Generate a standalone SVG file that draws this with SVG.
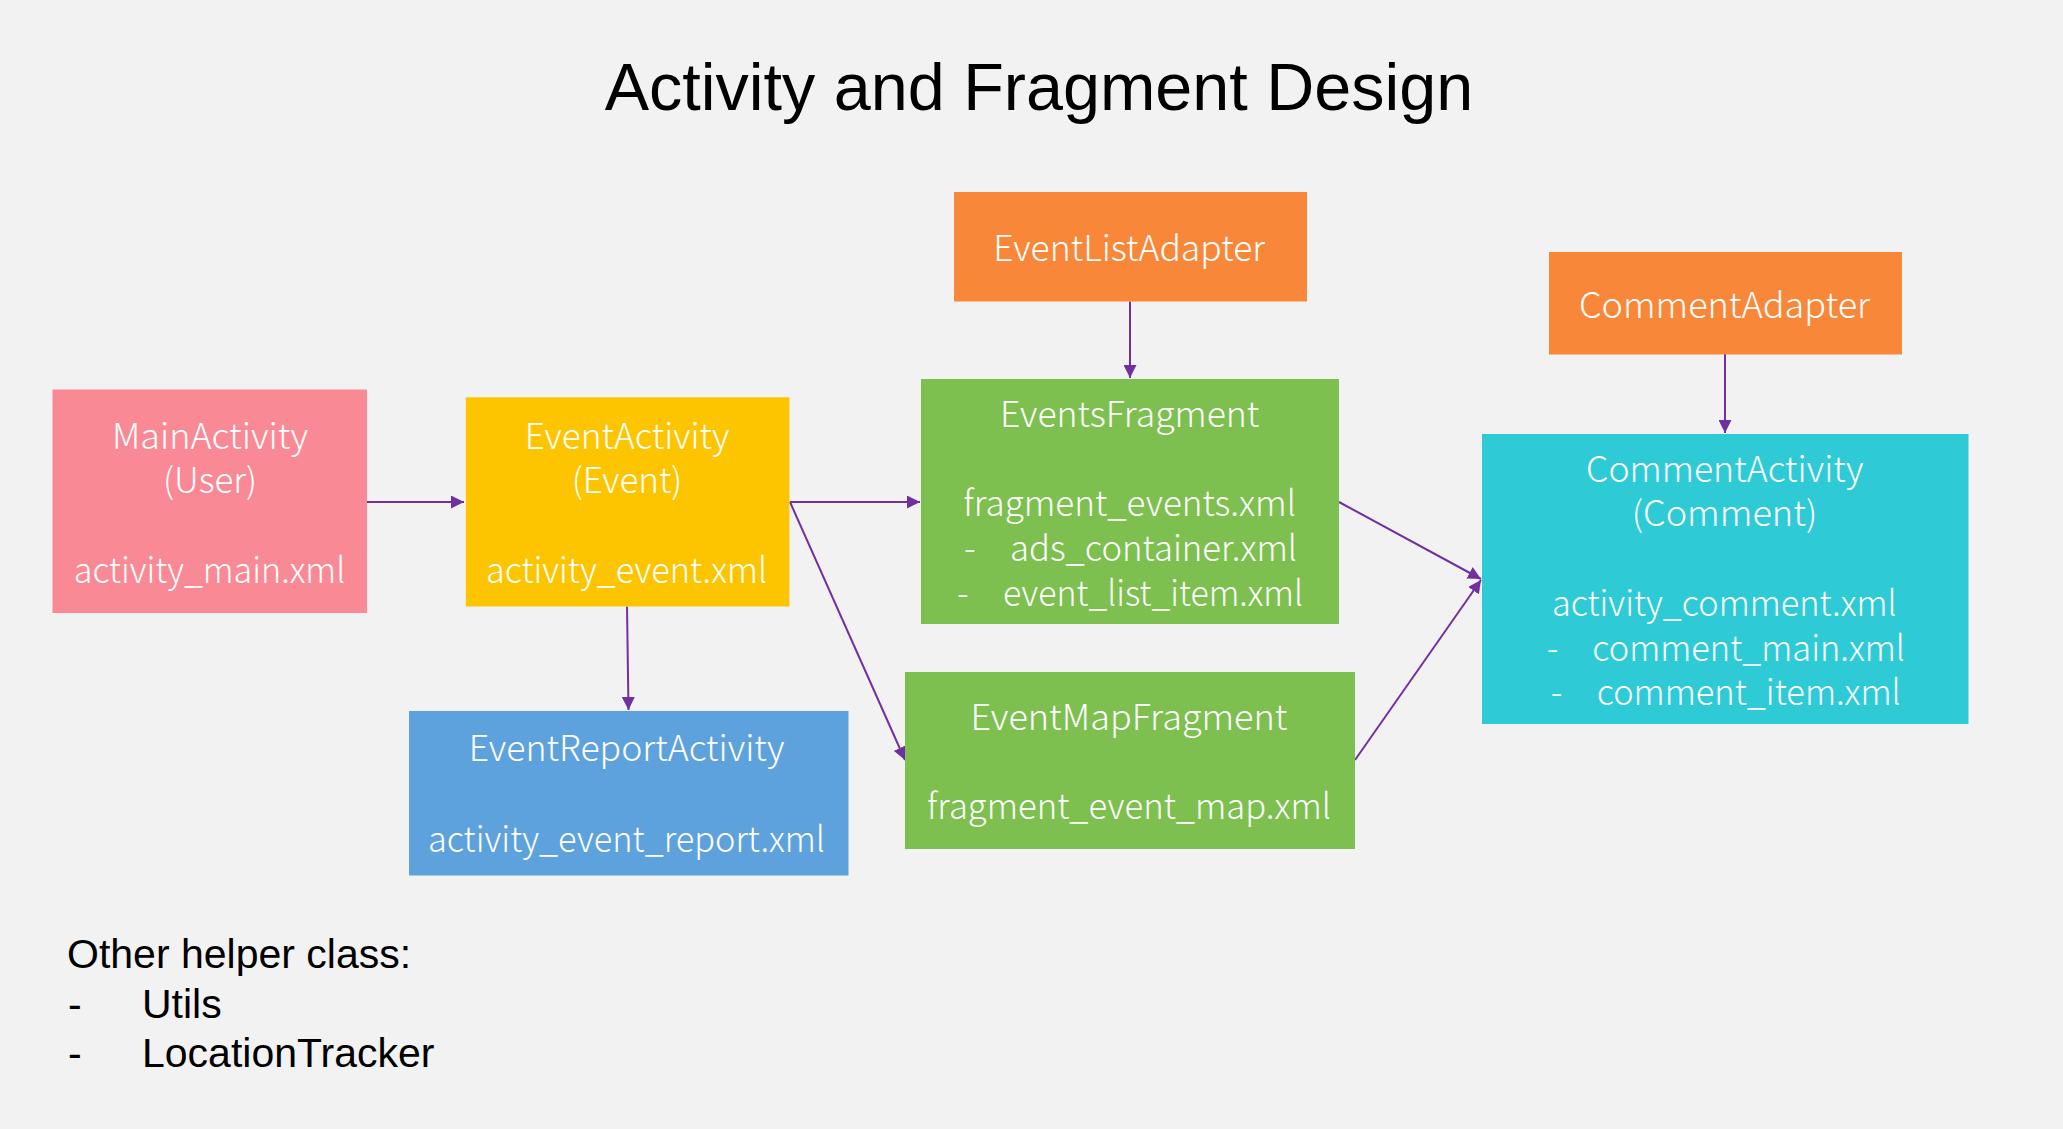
<svg xmlns="http://www.w3.org/2000/svg" width="2063" height="1129" viewBox="0 0 2063 1129">
<style>
.bg{fill:#F2F2F2}
.t{font-family:"Noto Sans CJK SC","Noto Sans",sans-serif;font-weight:300;font-size:35px;fill:#FFFFFF;text-anchor:middle}
.l{font-family:"Noto Sans CJK SC","Noto Sans",sans-serif;font-weight:300;font-size:35px;fill:#FFFFFF}
.blk{font-family:"Liberation Sans",Arial,sans-serif;fill:#000000}
.c{stroke:#7030A0;stroke-width:2;fill:none;marker-end:url(#ah)}
</style>
<defs>
<marker id="ah" markerUnits="userSpaceOnUse" markerWidth="13" markerHeight="13" viewBox="0 0 12 12" refX="12" refY="6" orient="auto">
<path d="M0,0 L12,6 L0,12 Z" fill="#7030A0"/>
</marker>
</defs>
<rect class="bg" x="0" y="0" width="2063" height="1129"/>
<text class="blk" x="1039" y="110" font-size="66.5" text-anchor="middle">Activity and Fragment Design</text>

<g id="connectors">
<line class="c" x1="367" y1="502" x2="464" y2="502"/>
<line class="c" x1="790" y1="502" x2="920" y2="502"/>
<line class="c" x1="790" y1="502" x2="905" y2="760"/>
<line class="c" x1="627" y1="606.5" x2="628.5" y2="710"/>
<line class="c" x1="1130" y1="301.5" x2="1130" y2="378"/>
<line class="c" x1="1725" y1="354" x2="1725" y2="433"/>
<line class="c" x1="1339" y1="502" x2="1481" y2="579"/>
<line class="c" x1="1355" y1="760" x2="1481" y2="580"/>
</g>

<g id="MainActivity">
<rect x="52.5" y="389.5" width="314.5" height="223.5" fill="#F98995"/>
<text class="t" x="210" y="449" textLength="196" lengthAdjust="spacingAndGlyphs">MainActivity</text>
<text class="t" x="210" y="493">(User)</text>
<text class="t" x="209.5" y="582.7" textLength="271.4" lengthAdjust="spacingAndGlyphs">activity_main.xml</text>
</g>

<g id="EventActivity">
<rect x="465.8" y="397.3" width="323.6" height="209.2" fill="#FDC500"/>
<text class="t" x="627" y="449" textLength="204.6" lengthAdjust="spacingAndGlyphs">EventActivity</text>
<text class="t" x="627" y="493">(Event)</text>
<text class="t" x="626.5" y="582.7" textLength="281" lengthAdjust="spacingAndGlyphs">activity_event.xml</text>
</g>

<g id="EventListAdapter">
<rect x="954" y="192" width="353" height="109.5" fill="#F98739"/>
<text class="t" x="1129.2" y="261" textLength="271.7" lengthAdjust="spacingAndGlyphs">EventListAdapter</text>
</g>

<g id="EventsFragment">
<rect x="921" y="379" width="418" height="245" fill="#7DC04F"/>
<text class="t" x="1129.7" y="426.7" textLength="259.3" lengthAdjust="spacingAndGlyphs">EventsFragment</text>
<text class="t" x="1129.7" y="516" textLength="332.7" lengthAdjust="spacingAndGlyphs">fragment_events.xml</text>
<text class="l" x="964" y="561">-</text>
<text class="l" x="1010" y="561" textLength="287" lengthAdjust="spacingAndGlyphs">ads_container.xml</text>
<text class="l" x="957" y="606">-</text>
<text class="l" x="1003" y="606" textLength="300" lengthAdjust="spacingAndGlyphs">event_list_item.xml</text>
</g>

<g id="CommentAdapter">
<rect x="1549" y="252" width="353" height="102.5" fill="#F98739"/>
<text class="t" x="1724.5" y="318" textLength="291" lengthAdjust="spacingAndGlyphs">CommentAdapter</text>
</g>

<g id="CommentActivity">
<rect x="1482" y="434" width="486.5" height="290" fill="#2ECBD7"/>
<text class="t" x="1724.7" y="481.7" textLength="277.3" lengthAdjust="spacingAndGlyphs">CommentActivity</text>
<text class="t" x="1724.5" y="526" textLength="185.7" lengthAdjust="spacingAndGlyphs">(Comment)</text>
<text class="t" x="1724.3" y="616" textLength="344.7" lengthAdjust="spacingAndGlyphs">activity_comment.xml</text>
<text class="l" x="1546.7" y="661">-</text>
<text class="l" x="1592.3" y="661" textLength="312.7" lengthAdjust="spacingAndGlyphs">comment_main.xml</text>
<text class="l" x="1550.7" y="705">-</text>
<text class="l" x="1596.7" y="705" textLength="304" lengthAdjust="spacingAndGlyphs">comment_item.xml</text>
</g>

<g id="EventReportActivity">
<rect x="409" y="711" width="439.5" height="164.5" fill="#5EA2DD"/>
<text class="t" x="626.6" y="761" textLength="315.6" lengthAdjust="spacingAndGlyphs">EventReportActivity</text>
<text class="t" x="626.5" y="851.7" textLength="397" lengthAdjust="spacingAndGlyphs">activity_event_report.xml</text>
</g>

<g id="EventMapFragment">
<rect x="905" y="672" width="450" height="177" fill="#7DC04F"/>
<text class="t" x="1129" y="730" textLength="317" lengthAdjust="spacingAndGlyphs">EventMapFragment</text>
<text class="t" x="1129" y="819.3" textLength="404" lengthAdjust="spacingAndGlyphs">fragment_event_map.xml</text>
</g>

<g id="helpers">
<text class="blk" x="67" y="967.7" font-size="41">Other helper class:</text>
<text class="blk" x="68" y="1017.7" font-size="41">-</text>
<text class="blk" x="142" y="1017.7" font-size="41">Utils</text>
<text class="blk" x="68" y="1066.7" font-size="41">-</text>
<text class="blk" x="142" y="1066.7" font-size="41">LocationTracker</text>
</g>
</svg>
